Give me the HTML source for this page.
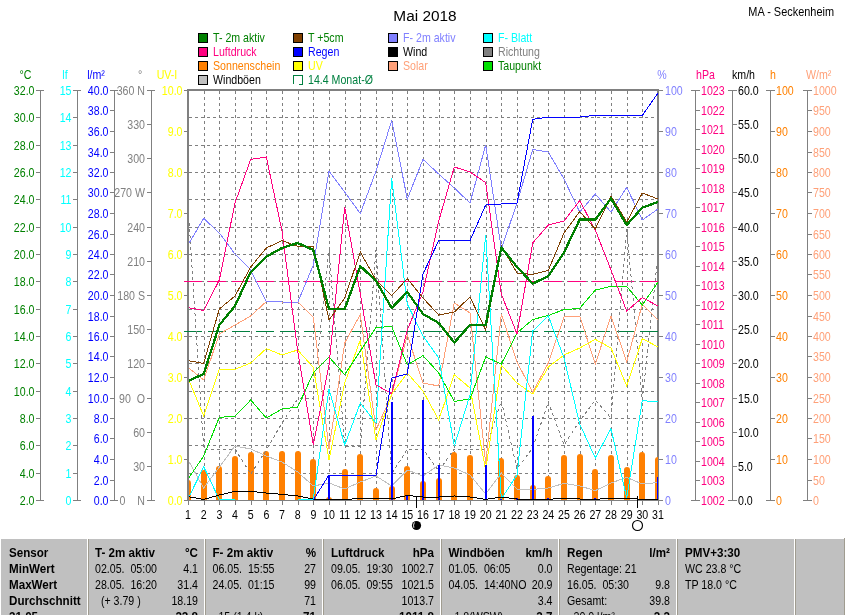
<!DOCTYPE html>
<html lang="de"><head><meta charset="utf-8"><title>Mai 2018 - MA - Seckenheim</title>
<style>html,body{margin:0;padding:0;background:#fff}body{width:845px;height:615px;overflow:hidden}svg{display:block;will-change:transform;opacity:.999}text{white-space:pre;font-family:"Liberation Sans",sans-serif;font-size:12.5px}</style>
</head><body>
<svg width="845" height="615" viewBox="0 0 845 615">
<rect width="845" height="615" fill="#fff"/>
<text transform="translate(425 21) scale(1 1)" fill="#000" text-anchor="middle" style="font-size:15.4px">Mai 2018</text>
<text transform="translate(834 16) scale(0.875 1)" fill="#000" text-anchor="end">MA - Seckenheim</text>
<g shape-rendering="crispEdges">
<rect x="198.5" y="33.5" width="9" height="9" fill="#008000" stroke="#000" stroke-width="1"/>
<rect x="198.5" y="47.5" width="9" height="9" fill="#ff0080" stroke="#000" stroke-width="1"/>
<rect x="198.5" y="61.5" width="9" height="9" fill="#ff8000" stroke="#000" stroke-width="1"/>
<rect x="198.5" y="75.5" width="9" height="9" fill="#c0c0c0" stroke="#000" stroke-width="1"/>
<rect x="293.5" y="33.5" width="9" height="9" fill="#804000" stroke="#000" stroke-width="1"/>
<rect x="293.5" y="47.5" width="9" height="9" fill="#0000ff" stroke="#000" stroke-width="1"/>
<rect x="293.5" y="61.5" width="9" height="9" fill="#ffff00" stroke="#000" stroke-width="1"/>
<rect x="388.5" y="33.5" width="9" height="9" fill="#8080ff" stroke="#000" stroke-width="1"/>
<rect x="388.5" y="47.5" width="9" height="9" fill="#000" stroke="#000" stroke-width="1"/>
<rect x="388.5" y="61.5" width="9" height="9" fill="#ffa078" stroke="#000" stroke-width="1"/>
<rect x="483.5" y="33.5" width="9" height="9" fill="#00ffff" stroke="#000" stroke-width="1"/>
<rect x="483.5" y="47.5" width="9" height="9" fill="#808080" stroke="#000" stroke-width="1"/>
<rect x="483.5" y="61.5" width="9" height="9" fill="#00e000" stroke="#000" stroke-width="1"/>
<path d="M293.5,84 V75.5 H302.5 V84.5 H299" fill="none" stroke="#008040"/>
</g>
<text transform="translate(213 42) scale(0.85 1)" fill="#008000">T- 2m aktiv</text>
<text transform="translate(213 56) scale(0.85 1)" fill="#ff0080">Luftdruck</text>
<text transform="translate(213 70) scale(0.85 1)" fill="#ff8000">Sonnenschein</text>
<text transform="translate(213 84) scale(0.85 1)" fill="#000">Windböen</text>
<text transform="translate(308 42) scale(0.85 1)" fill="#008000">T +5cm</text>
<text transform="translate(308 56) scale(0.85 1)" fill="#0000ff">Regen</text>
<text transform="translate(308 70) scale(0.85 1)" fill="#ffff00">UV</text>
<text transform="translate(403 42) scale(0.85 1)" fill="#8080ff">F- 2m aktiv</text>
<text transform="translate(403 56) scale(0.85 1)" fill="#000">Wind</text>
<text transform="translate(403 70) scale(0.85 1)" fill="#ffa078">Solar</text>
<text transform="translate(498 42) scale(0.85 1)" fill="#00ffff">F- Blatt</text>
<text transform="translate(498 56) scale(0.85 1)" fill="#808080">Richtung</text>
<text transform="translate(498 70) scale(0.85 1)" fill="#008000">Taupunkt</text>
<text transform="translate(308 84) scale(0.85 1)" fill="#008040">14.4 Monat-Ø</text>
<g shape-rendering="crispEdges" stroke="#808080" stroke-width="1" fill="none">
<path d="M40.5,90 V500.5"/>
<path d="M36,90.5 H44"/>
<path d="M36,117.5 H40"/>
<path d="M36,145.5 H40"/>
<path d="M36,172.5 H40"/>
<path d="M36,199.5 H40"/>
<path d="M36,227.5 H40"/>
<path d="M36,254.5 H40"/>
<path d="M36,281.5 H40"/>
<path d="M36,309.5 H40"/>
<path d="M36,336.5 H40"/>
<path d="M36,363.5 H40"/>
<path d="M36,391.5 H40"/>
<path d="M36,418.5 H40"/>
<path d="M36,445.5 H40"/>
<path d="M36,473.5 H40"/>
<path d="M36,500.5 H44"/>
<path d="M77.5,90 V500.5"/>
<path d="M73,90.5 H81"/>
<path d="M73,117.5 H77"/>
<path d="M73,145.5 H77"/>
<path d="M73,172.5 H77"/>
<path d="M73,199.5 H77"/>
<path d="M73,227.5 H77"/>
<path d="M73,254.5 H77"/>
<path d="M73,281.5 H77"/>
<path d="M73,309.5 H77"/>
<path d="M73,336.5 H77"/>
<path d="M73,363.5 H77"/>
<path d="M73,391.5 H77"/>
<path d="M73,418.5 H77"/>
<path d="M73,445.5 H77"/>
<path d="M73,473.5 H77"/>
<path d="M73,500.5 H81"/>
<path d="M114.5,90 V500.5"/>
<path d="M110,90.5 H118"/>
<path d="M110,110.5 H114"/>
<path d="M110,131.5 H114"/>
<path d="M110,152.5 H114"/>
<path d="M110,172.5 H114"/>
<path d="M110,192.5 H114"/>
<path d="M110,213.5 H114"/>
<path d="M110,234.5 H114"/>
<path d="M110,254.5 H114"/>
<path d="M110,274.5 H114"/>
<path d="M110,295.5 H114"/>
<path d="M110,316.5 H114"/>
<path d="M110,336.5 H114"/>
<path d="M110,356.5 H114"/>
<path d="M110,377.5 H114"/>
<path d="M110,398.5 H114"/>
<path d="M110,418.5 H114"/>
<path d="M110,438.5 H114"/>
<path d="M110,459.5 H114"/>
<path d="M110,480.5 H114"/>
<path d="M110,500.5 H118"/>
<path d="M151.5,90 V500.5"/>
<path d="M147,90.5 H155"/>
<path d="M147,124.5 H151"/>
<path d="M147,158.5 H151"/>
<path d="M147,192.5 H151"/>
<path d="M147,227.5 H151"/>
<path d="M147,261.5 H151"/>
<path d="M147,295.5 H151"/>
<path d="M147,329.5 H151"/>
<path d="M147,363.5 H151"/>
<path d="M147,398.5 H151"/>
<path d="M147,432.5 H151"/>
<path d="M147,466.5 H151"/>
<path d="M147,500.5 H155"/>
<path d="M184,90.5 H188"/>
<path d="M184,131.5 H188"/>
<path d="M184,172.5 H188"/>
<path d="M184,213.5 H188"/>
<path d="M184,254.5 H188"/>
<path d="M184,295.5 H188"/>
<path d="M184,336.5 H188"/>
<path d="M184,377.5 H188"/>
<path d="M184,418.5 H188"/>
<path d="M184,459.5 H188"/>
<path d="M184,500.5 H188"/>
<path d="M659,90.5 H663"/>
<path d="M659,131.5 H663"/>
<path d="M659,172.5 H663"/>
<path d="M659,213.5 H663"/>
<path d="M659,254.5 H663"/>
<path d="M659,295.5 H663"/>
<path d="M659,336.5 H663"/>
<path d="M659,377.5 H663"/>
<path d="M659,418.5 H663"/>
<path d="M659,459.5 H663"/>
<path d="M659,500.5 H663"/>
<path d="M695.5,90 V500.5"/>
<path d="M691,90.5 H700"/>
<path d="M696,110.5 H700"/>
<path d="M696,129.5 H700"/>
<path d="M696,149.5 H700"/>
<path d="M696,168.5 H700"/>
<path d="M696,188.5 H700"/>
<path d="M696,207.5 H700"/>
<path d="M696,227.5 H700"/>
<path d="M696,246.5 H700"/>
<path d="M696,266.5 H700"/>
<path d="M696,285.5 H700"/>
<path d="M696,305.5 H700"/>
<path d="M696,324.5 H700"/>
<path d="M696,344.5 H700"/>
<path d="M696,363.5 H700"/>
<path d="M696,383.5 H700"/>
<path d="M696,402.5 H700"/>
<path d="M696,422.5 H700"/>
<path d="M696,441.5 H700"/>
<path d="M696,461.5 H700"/>
<path d="M696,480.5 H700"/>
<path d="M691,500.5 H700"/>
<path d="M732.5,90 V500.5"/>
<path d="M728,90.5 H737"/>
<path d="M733,124.5 H737"/>
<path d="M733,158.5 H737"/>
<path d="M733,192.5 H737"/>
<path d="M733,227.5 H737"/>
<path d="M733,261.5 H737"/>
<path d="M733,295.5 H737"/>
<path d="M733,329.5 H737"/>
<path d="M733,363.5 H737"/>
<path d="M733,398.5 H737"/>
<path d="M733,432.5 H737"/>
<path d="M733,466.5 H737"/>
<path d="M728,500.5 H737"/>
<path d="M770.5,90 V500.5"/>
<path d="M766,90.5 H775"/>
<path d="M771,131.5 H775"/>
<path d="M771,172.5 H775"/>
<path d="M771,213.5 H775"/>
<path d="M771,254.5 H775"/>
<path d="M771,295.5 H775"/>
<path d="M771,336.5 H775"/>
<path d="M771,377.5 H775"/>
<path d="M771,418.5 H775"/>
<path d="M771,459.5 H775"/>
<path d="M766,500.5 H775"/>
<path d="M807.5,90 V500.5"/>
<path d="M803,90.5 H812"/>
<path d="M808,110.5 H812"/>
<path d="M808,131.5 H812"/>
<path d="M808,152.5 H812"/>
<path d="M808,172.5 H812"/>
<path d="M808,192.5 H812"/>
<path d="M808,213.5 H812"/>
<path d="M808,234.5 H812"/>
<path d="M808,254.5 H812"/>
<path d="M808,274.5 H812"/>
<path d="M808,295.5 H812"/>
<path d="M808,316.5 H812"/>
<path d="M808,336.5 H812"/>
<path d="M808,356.5 H812"/>
<path d="M808,377.5 H812"/>
<path d="M808,398.5 H812"/>
<path d="M808,418.5 H812"/>
<path d="M808,438.5 H812"/>
<path d="M808,459.5 H812"/>
<path d="M808,480.5 H812"/>
<path d="M803,500.5 H812"/>
</g>
<text transform="translate(34.5 95) scale(0.85 1)" fill="#008000" text-anchor="end">32.0</text>
<text transform="translate(34.5 122) scale(0.85 1)" fill="#008000" text-anchor="end">30.0</text>
<text transform="translate(34.5 150) scale(0.85 1)" fill="#008000" text-anchor="end">28.0</text>
<text transform="translate(34.5 177) scale(0.85 1)" fill="#008000" text-anchor="end">26.0</text>
<text transform="translate(34.5 204) scale(0.85 1)" fill="#008000" text-anchor="end">24.0</text>
<text transform="translate(34.5 232) scale(0.85 1)" fill="#008000" text-anchor="end">22.0</text>
<text transform="translate(34.5 259) scale(0.85 1)" fill="#008000" text-anchor="end">20.0</text>
<text transform="translate(34.5 286) scale(0.85 1)" fill="#008000" text-anchor="end">18.0</text>
<text transform="translate(34.5 314) scale(0.85 1)" fill="#008000" text-anchor="end">16.0</text>
<text transform="translate(34.5 341) scale(0.85 1)" fill="#008000" text-anchor="end">14.0</text>
<text transform="translate(34.5 368) scale(0.85 1)" fill="#008000" text-anchor="end">12.0</text>
<text transform="translate(34.5 396) scale(0.85 1)" fill="#008000" text-anchor="end">10.0</text>
<text transform="translate(34.5 423) scale(0.85 1)" fill="#008000" text-anchor="end">8.0</text>
<text transform="translate(34.5 450) scale(0.85 1)" fill="#008000" text-anchor="end">6.0</text>
<text transform="translate(34.5 478) scale(0.85 1)" fill="#008000" text-anchor="end">4.0</text>
<text transform="translate(34.5 505) scale(0.85 1)" fill="#008000" text-anchor="end">2.0</text>
<text transform="translate(71.5 95) scale(0.85 1)" fill="#00ffff" text-anchor="end">15</text>
<text transform="translate(71.5 122) scale(0.85 1)" fill="#00ffff" text-anchor="end">14</text>
<text transform="translate(71.5 150) scale(0.85 1)" fill="#00ffff" text-anchor="end">13</text>
<text transform="translate(71.5 177) scale(0.85 1)" fill="#00ffff" text-anchor="end">12</text>
<text transform="translate(71.5 204) scale(0.85 1)" fill="#00ffff" text-anchor="end">11</text>
<text transform="translate(71.5 232) scale(0.85 1)" fill="#00ffff" text-anchor="end">10</text>
<text transform="translate(71.5 259) scale(0.85 1)" fill="#00ffff" text-anchor="end">9</text>
<text transform="translate(71.5 286) scale(0.85 1)" fill="#00ffff" text-anchor="end">8</text>
<text transform="translate(71.5 314) scale(0.85 1)" fill="#00ffff" text-anchor="end">7</text>
<text transform="translate(71.5 341) scale(0.85 1)" fill="#00ffff" text-anchor="end">6</text>
<text transform="translate(71.5 368) scale(0.85 1)" fill="#00ffff" text-anchor="end">5</text>
<text transform="translate(71.5 396) scale(0.85 1)" fill="#00ffff" text-anchor="end">4</text>
<text transform="translate(71.5 423) scale(0.85 1)" fill="#00ffff" text-anchor="end">3</text>
<text transform="translate(71.5 450) scale(0.85 1)" fill="#00ffff" text-anchor="end">2</text>
<text transform="translate(71.5 478) scale(0.85 1)" fill="#00ffff" text-anchor="end">1</text>
<text transform="translate(71.5 505) scale(0.85 1)" fill="#00ffff" text-anchor="end">0</text>
<text transform="translate(108.5 95) scale(0.85 1)" fill="#0000ff" text-anchor="end">40.0</text>
<text transform="translate(108.5 115) scale(0.85 1)" fill="#0000ff" text-anchor="end">38.0</text>
<text transform="translate(108.5 136) scale(0.85 1)" fill="#0000ff" text-anchor="end">36.0</text>
<text transform="translate(108.5 157) scale(0.85 1)" fill="#0000ff" text-anchor="end">34.0</text>
<text transform="translate(108.5 177) scale(0.85 1)" fill="#0000ff" text-anchor="end">32.0</text>
<text transform="translate(108.5 197) scale(0.85 1)" fill="#0000ff" text-anchor="end">30.0</text>
<text transform="translate(108.5 218) scale(0.85 1)" fill="#0000ff" text-anchor="end">28.0</text>
<text transform="translate(108.5 239) scale(0.85 1)" fill="#0000ff" text-anchor="end">26.0</text>
<text transform="translate(108.5 259) scale(0.85 1)" fill="#0000ff" text-anchor="end">24.0</text>
<text transform="translate(108.5 279) scale(0.85 1)" fill="#0000ff" text-anchor="end">22.0</text>
<text transform="translate(108.5 300) scale(0.85 1)" fill="#0000ff" text-anchor="end">20.0</text>
<text transform="translate(108.5 321) scale(0.85 1)" fill="#0000ff" text-anchor="end">18.0</text>
<text transform="translate(108.5 341) scale(0.85 1)" fill="#0000ff" text-anchor="end">16.0</text>
<text transform="translate(108.5 361) scale(0.85 1)" fill="#0000ff" text-anchor="end">14.0</text>
<text transform="translate(108.5 382) scale(0.85 1)" fill="#0000ff" text-anchor="end">12.0</text>
<text transform="translate(108.5 403) scale(0.85 1)" fill="#0000ff" text-anchor="end">10.0</text>
<text transform="translate(108.5 423) scale(0.85 1)" fill="#0000ff" text-anchor="end">8.0</text>
<text transform="translate(108.5 443) scale(0.85 1)" fill="#0000ff" text-anchor="end">6.0</text>
<text transform="translate(108.5 464) scale(0.85 1)" fill="#0000ff" text-anchor="end">4.0</text>
<text transform="translate(108.5 485) scale(0.85 1)" fill="#0000ff" text-anchor="end">2.0</text>
<text transform="translate(108.5 505) scale(0.85 1)" fill="#0000ff" text-anchor="end">0.0</text>
<text transform="translate(145 95) scale(0.85 1)" fill="#808080" text-anchor="end">360 N</text>
<text transform="translate(145 129) scale(0.85 1)" fill="#808080" text-anchor="end">330</text>
<text transform="translate(145 163) scale(0.85 1)" fill="#808080" text-anchor="end">300</text>
<text transform="translate(145 197) scale(0.85 1)" fill="#808080" text-anchor="end">270 W</text>
<text transform="translate(145 232) scale(0.85 1)" fill="#808080" text-anchor="end">240</text>
<text transform="translate(145 266) scale(0.85 1)" fill="#808080" text-anchor="end">210</text>
<text transform="translate(145 300) scale(0.85 1)" fill="#808080" text-anchor="end">180 S</text>
<text transform="translate(145 334) scale(0.85 1)" fill="#808080" text-anchor="end">150</text>
<text transform="translate(145 368) scale(0.85 1)" fill="#808080" text-anchor="end">120</text>
<text transform="translate(145 403) scale(0.85 1)" fill="#808080" text-anchor="end">90  O</text>
<text transform="translate(145 437) scale(0.85 1)" fill="#808080" text-anchor="end">60</text>
<text transform="translate(145 471) scale(0.85 1)" fill="#808080" text-anchor="end">30</text>
<text transform="translate(119.5 505) scale(0.85 1)" fill="#808080">0</text>
<text transform="translate(145 505) scale(0.85 1)" fill="#808080" text-anchor="end">N</text>
<text transform="translate(182.5 95) scale(0.85 1)" fill="#ffff00" text-anchor="end">10.0</text>
<text transform="translate(182.5 136) scale(0.85 1)" fill="#ffff00" text-anchor="end">9.0</text>
<text transform="translate(182.5 177) scale(0.85 1)" fill="#ffff00" text-anchor="end">8.0</text>
<text transform="translate(182.5 218) scale(0.85 1)" fill="#ffff00" text-anchor="end">7.0</text>
<text transform="translate(182.5 259) scale(0.85 1)" fill="#ffff00" text-anchor="end">6.0</text>
<text transform="translate(182.5 300) scale(0.85 1)" fill="#ffff00" text-anchor="end">5.0</text>
<text transform="translate(182.5 341) scale(0.85 1)" fill="#ffff00" text-anchor="end">4.0</text>
<text transform="translate(182.5 382) scale(0.85 1)" fill="#ffff00" text-anchor="end">3.0</text>
<text transform="translate(182.5 423) scale(0.85 1)" fill="#ffff00" text-anchor="end">2.0</text>
<text transform="translate(182.5 464) scale(0.85 1)" fill="#ffff00" text-anchor="end">1.0</text>
<text transform="translate(182.5 505) scale(0.85 1)" fill="#ffff00" text-anchor="end">0.0</text>
<text transform="translate(665 95) scale(0.85 1)" fill="#8080ff">100</text>
<text transform="translate(665 136) scale(0.85 1)" fill="#8080ff">90</text>
<text transform="translate(665 177) scale(0.85 1)" fill="#8080ff">80</text>
<text transform="translate(665 218) scale(0.85 1)" fill="#8080ff">70</text>
<text transform="translate(665 259) scale(0.85 1)" fill="#8080ff">60</text>
<text transform="translate(665 300) scale(0.85 1)" fill="#8080ff">50</text>
<text transform="translate(665 341) scale(0.85 1)" fill="#8080ff">40</text>
<text transform="translate(665 382) scale(0.85 1)" fill="#8080ff">30</text>
<text transform="translate(665 423) scale(0.85 1)" fill="#8080ff">20</text>
<text transform="translate(665 464) scale(0.85 1)" fill="#8080ff">10</text>
<text transform="translate(665 505) scale(0.85 1)" fill="#8080ff">0</text>
<text transform="translate(701 95) scale(0.85 1)" fill="#ff0080">1023</text>
<text transform="translate(701 115) scale(0.85 1)" fill="#ff0080">1022</text>
<text transform="translate(701 134) scale(0.85 1)" fill="#ff0080">1021</text>
<text transform="translate(701 154) scale(0.85 1)" fill="#ff0080">1020</text>
<text transform="translate(701 173) scale(0.85 1)" fill="#ff0080">1019</text>
<text transform="translate(701 193) scale(0.85 1)" fill="#ff0080">1018</text>
<text transform="translate(701 212) scale(0.85 1)" fill="#ff0080">1017</text>
<text transform="translate(701 232) scale(0.85 1)" fill="#ff0080">1016</text>
<text transform="translate(701 251) scale(0.85 1)" fill="#ff0080">1015</text>
<text transform="translate(701 271) scale(0.85 1)" fill="#ff0080">1014</text>
<text transform="translate(701 290) scale(0.85 1)" fill="#ff0080">1013</text>
<text transform="translate(701 310) scale(0.85 1)" fill="#ff0080">1012</text>
<text transform="translate(701 329) scale(0.85 1)" fill="#ff0080">1011</text>
<text transform="translate(701 349) scale(0.85 1)" fill="#ff0080">1010</text>
<text transform="translate(701 368) scale(0.85 1)" fill="#ff0080">1009</text>
<text transform="translate(701 388) scale(0.85 1)" fill="#ff0080">1008</text>
<text transform="translate(701 407) scale(0.85 1)" fill="#ff0080">1007</text>
<text transform="translate(701 427) scale(0.85 1)" fill="#ff0080">1006</text>
<text transform="translate(701 446) scale(0.85 1)" fill="#ff0080">1005</text>
<text transform="translate(701 466) scale(0.85 1)" fill="#ff0080">1004</text>
<text transform="translate(701 485) scale(0.85 1)" fill="#ff0080">1003</text>
<text transform="translate(701 505) scale(0.85 1)" fill="#ff0080">1002</text>
<text transform="translate(738 95) scale(0.85 1)" fill="#000">60.0</text>
<text transform="translate(738 129) scale(0.85 1)" fill="#000">55.0</text>
<text transform="translate(738 163) scale(0.85 1)" fill="#000">50.0</text>
<text transform="translate(738 197) scale(0.85 1)" fill="#000">45.0</text>
<text transform="translate(738 232) scale(0.85 1)" fill="#000">40.0</text>
<text transform="translate(738 266) scale(0.85 1)" fill="#000">35.0</text>
<text transform="translate(738 300) scale(0.85 1)" fill="#000">30.0</text>
<text transform="translate(738 334) scale(0.85 1)" fill="#000">25.0</text>
<text transform="translate(738 368) scale(0.85 1)" fill="#000">20.0</text>
<text transform="translate(738 403) scale(0.85 1)" fill="#000">15.0</text>
<text transform="translate(738 437) scale(0.85 1)" fill="#000">10.0</text>
<text transform="translate(738 471) scale(0.85 1)" fill="#000">5.0</text>
<text transform="translate(738 505) scale(0.85 1)" fill="#000">0.0</text>
<text transform="translate(776 95) scale(0.85 1)" fill="#ff8000">100</text>
<text transform="translate(776 136) scale(0.85 1)" fill="#ff8000">90</text>
<text transform="translate(776 177) scale(0.85 1)" fill="#ff8000">80</text>
<text transform="translate(776 218) scale(0.85 1)" fill="#ff8000">70</text>
<text transform="translate(776 259) scale(0.85 1)" fill="#ff8000">60</text>
<text transform="translate(776 300) scale(0.85 1)" fill="#ff8000">50</text>
<text transform="translate(776 341) scale(0.85 1)" fill="#ff8000">40</text>
<text transform="translate(776 382) scale(0.85 1)" fill="#ff8000">30</text>
<text transform="translate(776 423) scale(0.85 1)" fill="#ff8000">20</text>
<text transform="translate(776 464) scale(0.85 1)" fill="#ff8000">10</text>
<text transform="translate(776 505) scale(0.85 1)" fill="#ff8000">0</text>
<text transform="translate(813 95) scale(0.85 1)" fill="#ffa078">1000</text>
<text transform="translate(813 115) scale(0.85 1)" fill="#ffa078">950</text>
<text transform="translate(813 136) scale(0.85 1)" fill="#ffa078">900</text>
<text transform="translate(813 157) scale(0.85 1)" fill="#ffa078">850</text>
<text transform="translate(813 177) scale(0.85 1)" fill="#ffa078">800</text>
<text transform="translate(813 197) scale(0.85 1)" fill="#ffa078">750</text>
<text transform="translate(813 218) scale(0.85 1)" fill="#ffa078">700</text>
<text transform="translate(813 239) scale(0.85 1)" fill="#ffa078">650</text>
<text transform="translate(813 259) scale(0.85 1)" fill="#ffa078">600</text>
<text transform="translate(813 279) scale(0.85 1)" fill="#ffa078">550</text>
<text transform="translate(813 300) scale(0.85 1)" fill="#ffa078">500</text>
<text transform="translate(813 321) scale(0.85 1)" fill="#ffa078">450</text>
<text transform="translate(813 341) scale(0.85 1)" fill="#ffa078">400</text>
<text transform="translate(813 361) scale(0.85 1)" fill="#ffa078">350</text>
<text transform="translate(813 382) scale(0.85 1)" fill="#ffa078">300</text>
<text transform="translate(813 403) scale(0.85 1)" fill="#ffa078">250</text>
<text transform="translate(813 423) scale(0.85 1)" fill="#ffa078">200</text>
<text transform="translate(813 443) scale(0.85 1)" fill="#ffa078">150</text>
<text transform="translate(813 464) scale(0.85 1)" fill="#ffa078">100</text>
<text transform="translate(813 485) scale(0.85 1)" fill="#ffa078">50</text>
<text transform="translate(813 505) scale(0.85 1)" fill="#ffa078">0</text>
<text transform="translate(25.5 79) scale(0.85 1)" fill="#008000" text-anchor="middle">°C</text>
<text transform="translate(65 79) scale(0.85 1)" fill="#00ffff" text-anchor="middle">lf</text>
<text transform="translate(96 79) scale(0.85 1)" fill="#0000ff" text-anchor="middle">l/m²</text>
<text transform="translate(140 79) scale(0.85 1)" fill="#808080" text-anchor="middle">°</text>
<text transform="translate(167 79) scale(0.85 1)" fill="#ffff00" text-anchor="middle">UV-I</text>
<text transform="translate(662 79) scale(0.85 1)" fill="#8080ff" text-anchor="middle">%</text>
<text transform="translate(696 79) scale(0.85 1)" fill="#ff0080">hPa</text>
<text transform="translate(732 79) scale(0.85 1)" fill="#000">km/h</text>
<text transform="translate(770 79) scale(0.85 1)" fill="#ff8000">h</text>
<text transform="translate(806 79) scale(0.85 1)" fill="#ffa078">W/m²</text>
<g shape-rendering="crispEdges" fill="none">
<g stroke="#808080" stroke-width="1" stroke-dasharray="3 3">
<path d="M189,117.5 H658"/>
<path d="M189,145.5 H658"/>
<path d="M189,172.5 H658"/>
<path d="M189,199.5 H658"/>
<path d="M189,227.5 H658"/>
<path d="M189,254.5 H658"/>
<path d="M189,281.5 H658"/>
<path d="M189,309.5 H658"/>
<path d="M189,336.5 H658"/>
<path d="M189,363.5 H658"/>
<path d="M189,391.5 H658"/>
<path d="M189,418.5 H658"/>
<path d="M189,445.5 H658"/>
<path d="M189,473.5 H658"/>
<path d="M204.5,91 V500"/>
<path d="M219.5,91 V500"/>
<path d="M235.5,91 V500"/>
<path d="M251.5,91 V500"/>
<path d="M266.5,91 V500"/>
<path d="M282.5,91 V500"/>
<path d="M298.5,91 V500"/>
<path d="M313.5,91 V500"/>
<path d="M329.5,91 V500"/>
<path d="M345.5,91 V500"/>
<path d="M360.5,91 V500"/>
<path d="M376.5,91 V500"/>
<path d="M392.5,91 V500"/>
<path d="M407.5,91 V500"/>
<path d="M423.5,91 V500"/>
<path d="M439.5,91 V500"/>
<path d="M454.5,91 V500"/>
<path d="M470.5,91 V500"/>
<path d="M486.5,91 V500"/>
<path d="M501.5,91 V500"/>
<path d="M517.5,91 V500"/>
<path d="M533.5,91 V500"/>
<path d="M548.5,91 V500"/>
<path d="M564.5,91 V500"/>
<path d="M580.5,91 V500"/>
<path d="M595.5,91 V500"/>
<path d="M611.5,91 V500"/>
<path d="M627.5,91 V500"/>
<path d="M642.5,91 V500"/>
</g>
<path d="M188,89 V501 M187,90 H659 M658,89 V501" stroke="#808080" stroke-width="2"/>
<path d="M187,500.5 H659" stroke="#808080" stroke-width="1"/>
<clipPath id="pc"><rect x="189" y="91" width="469" height="409"/></clipPath>
<path d="M184,281.5 H658" stroke="#ff0080" stroke-dasharray="18 6"/>
<path d="M184,331.5 H658" stroke="#008040" stroke-dasharray="18 6"/>
<g clip-path="url(#pc)">
<path d="M185,500 V483.0 a3,3 0 0 1 6,0 V500 Z" fill="#ff8000" stroke="none" shape-rendering="auto"/>
<path d="M201,500 V473.0 a3,3 0 0 1 6,0 V500 Z" fill="#ff8000" stroke="none" shape-rendering="auto"/>
<path d="M216,500 V469.0 a3,3 0 0 1 6,0 V500 Z" fill="#ff8000" stroke="none" shape-rendering="auto"/>
<path d="M232,500 V459.0 a3,3 0 0 1 6,0 V500 Z" fill="#ff8000" stroke="none" shape-rendering="auto"/>
<path d="M248,500 V455.0 a3,3 0 0 1 6,0 V500 Z" fill="#ff8000" stroke="none" shape-rendering="auto"/>
<path d="M263,500 V454.0 a3,3 0 0 1 6,0 V500 Z" fill="#ff8000" stroke="none" shape-rendering="auto"/>
<path d="M279,500 V454.0 a3,3 0 0 1 6,0 V500 Z" fill="#ff8000" stroke="none" shape-rendering="auto"/>
<path d="M295,500 V454.0 a3,3 0 0 1 6,0 V500 Z" fill="#ff8000" stroke="none" shape-rendering="auto"/>
<path d="M310,500 V462.0 a3,3 0 0 1 6,0 V500 Z" fill="#ff8000" stroke="none" shape-rendering="auto"/>
<path d="M326,500 V500.0 a3,3 0 0 1 6,0 V500 Z" fill="#ff8000" stroke="none" shape-rendering="auto"/>
<path d="M342,500 V472.0 a3,3 0 0 1 6,0 V500 Z" fill="#ff8000" stroke="none" shape-rendering="auto"/>
<path d="M357,500 V457.0 a3,3 0 0 1 6,0 V500 Z" fill="#ff8000" stroke="none" shape-rendering="auto"/>
<path d="M373,500 V491.0 a3,3 0 0 1 6,0 V500 Z" fill="#ff8000" stroke="none" shape-rendering="auto"/>
<path d="M389,500 V489.0 a3,3 0 0 1 6,0 V500 Z" fill="#ff8000" stroke="none" shape-rendering="auto"/>
<path d="M404,500 V469.0 a3,3 0 0 1 6,0 V500 Z" fill="#ff8000" stroke="none" shape-rendering="auto"/>
<path d="M420,500 V484.0 a3,3 0 0 1 6,0 V500 Z" fill="#ff8000" stroke="none" shape-rendering="auto"/>
<path d="M436,500 V481.0 a3,3 0 0 1 6,0 V500 Z" fill="#ff8000" stroke="none" shape-rendering="auto"/>
<path d="M451,500 V455.0 a3,3 0 0 1 6,0 V500 Z" fill="#ff8000" stroke="none" shape-rendering="auto"/>
<path d="M467,500 V458.0 a3,3 0 0 1 6,0 V500 Z" fill="#ff8000" stroke="none" shape-rendering="auto"/>
<path d="M498,500 V461.0 a3,3 0 0 1 6,0 V500 Z" fill="#ff8000" stroke="none" shape-rendering="auto"/>
<path d="M514,500 V478.0 a3,3 0 0 1 6,0 V500 Z" fill="#ff8000" stroke="none" shape-rendering="auto"/>
<path d="M530,500 V488.0 a3,3 0 0 1 6,0 V500 Z" fill="#ff8000" stroke="none" shape-rendering="auto"/>
<path d="M545,500 V479.0 a3,3 0 0 1 6,0 V500 Z" fill="#ff8000" stroke="none" shape-rendering="auto"/>
<path d="M561,500 V458.0 a3,3 0 0 1 6,0 V500 Z" fill="#ff8000" stroke="none" shape-rendering="auto"/>
<path d="M577,500 V457.0 a3,3 0 0 1 6,0 V500 Z" fill="#ff8000" stroke="none" shape-rendering="auto"/>
<path d="M592,500 V472.0 a3,3 0 0 1 6,0 V500 Z" fill="#ff8000" stroke="none" shape-rendering="auto"/>
<path d="M608,500 V458.0 a3,3 0 0 1 6,0 V500 Z" fill="#ff8000" stroke="none" shape-rendering="auto"/>
<path d="M624,500 V470.0 a3,3 0 0 1 6,0 V500 Z" fill="#ff8000" stroke="none" shape-rendering="auto"/>
<path d="M639,500 V455.0 a3,3 0 0 1 6,0 V500 Z" fill="#ff8000" stroke="none" shape-rendering="auto"/>
<path d="M655,500 V460.0 a3,3 0 0 1 6,0 V500 Z" fill="#ff8000" stroke="none" shape-rendering="auto"/>
<polyline points="188.0,205.0 203.7,449.0 219.3,449.0 235.0,449.0 250.7,474.0 266.3,450.0 282.0,423.0 297.7,399.0 313.3,398.0 329.0,250.0 344.7,446.0 360.3,447.0 376.0,250.0 391.7,474.0 407.3,449.0 423.0,449.0 438.7,471.0 454.3,449.0 470.0,449.0 485.7,449.0 501.3,401.0 517.0,469.0 532.7,448.0 548.3,402.0 564.0,445.0 579.7,421.0 595.3,400.0 611.0,418.0 626.7,229.0 642.3,400.0 658.0,255.0" fill="none" stroke="#808080" stroke-width="1" stroke-dasharray="3 3"/>
<polyline points="188.0,460.0 203.7,488.0 219.3,467.0 235.0,446.0 250.7,449.0 266.3,456.0 282.0,462.0 297.7,472.0 313.3,486.0 329.0,483.0 344.7,489.0 360.3,482.0 376.0,476.0 391.7,486.0 407.3,470.0 423.0,476.0 438.7,465.0 454.3,468.0 470.0,475.0 485.7,494.0 501.3,473.0 517.0,489.0 532.7,489.4 548.3,488.0 564.0,483.4 579.7,486.0 595.3,490.6 611.0,483.0 626.7,477.4 642.3,484.0 658.0,482.6" fill="none" stroke="#c0c0c0" stroke-width="1"/>
<polyline points="188.0,367.4 203.7,380.0 219.3,334.0 235.0,325.0 250.7,316.0 266.3,301.6 282.0,302.0 297.7,302.0 313.3,317.0 329.0,449.0 344.7,343.0 360.3,314.5 376.0,430.0 391.7,395.0 407.3,335.0 423.0,383.0 438.7,386.0 454.3,303.0 470.0,313.0 485.7,464.0 501.3,314.0 517.0,362.0 532.7,392.0 548.3,363.0 564.0,317.0 579.7,316.0 595.3,364.0 611.0,316.0 626.7,362.0 642.3,304.0 658.0,320.0" fill="none" stroke="#ffa078" stroke-width="1"/>
<polyline points="188.0,378.0 203.7,416.0 219.3,369.4 235.0,369.4 250.7,363.0 266.3,348.6 282.0,355.0 297.7,350.0 313.3,367.4 329.0,460.0 344.7,383.0 360.3,340.0 376.0,440.0 391.7,394.0 407.3,373.0 423.0,391.0 438.7,420.0 454.3,374.6 470.0,388.0 485.7,470.0 501.3,365.0 517.0,383.0 532.7,394.0 548.3,367.0 564.0,355.0 579.7,348.0 595.3,339.4 611.0,348.0 626.7,386.0 642.3,338.6 658.0,347.0" fill="none" stroke="#ffff00" stroke-width="1"/>
<polyline points="188.0,479.0 203.7,456.0 219.3,417.4 235.0,416.0 250.7,400.0 266.3,418.0 282.0,409.0 297.7,407.0 313.3,373.0 329.0,357.0 344.7,374.6 360.3,351.0 376.0,327.4 391.7,326.6 407.3,365.0 423.0,355.6 438.7,373.0 454.3,401.4 470.0,399.0 485.7,357.0 501.3,364.0 517.0,333.0 532.7,319.5 548.3,315.5 564.0,309.6 579.7,308.4 595.3,290.0 611.0,286.4 626.7,286.4 642.3,305.0 658.0,282.0" fill="none" stroke="#00e000" stroke-width="1"/>
<polyline points="188.0,499.0 203.7,466.6 219.3,499.6 235.0,500.0 250.7,500.0 266.3,500.0 282.0,500.0 297.7,500.0 313.3,499.0 329.0,389.0 344.7,445.0 360.3,403.0 376.0,423.0 391.7,178.0 407.3,304.0 423.0,336.0 438.7,358.0 454.3,446.0 470.0,395.0 485.7,235.0 501.3,499.0 517.0,475.0 532.7,331.0 548.3,316.0 564.0,358.0 579.7,424.0 595.3,458.0 611.0,428.6 626.7,498.0 642.3,400.6 658.0,402.0" fill="none" stroke="#00ffff" stroke-width="1"/>
<polyline points="188.0,245.0 203.7,218.4 219.3,233.0 235.0,254.0 250.7,270.0 266.3,301.6 282.0,302.0 297.7,302.4 313.3,265.0 329.0,171.0 344.7,192.0 360.3,213.6 376.0,171.0 391.7,120.6 407.3,199.0 423.0,159.4 438.7,174.0 454.3,188.0 470.0,203.0 485.7,145.0 501.3,249.0 517.0,203.0 532.7,149.4 548.3,152.0 564.0,179.0 579.7,212.0 595.3,194.0 611.0,212.0 626.7,187.4 642.3,220.0 658.0,209.0" fill="none" stroke="#8080ff" stroke-width="1"/>
<polyline points="188.0,307.6 203.7,310.4 219.3,280.0 235.0,203.0 250.7,159.4 266.3,157.0 282.0,231.0 297.7,351.0 313.3,445.0 329.0,365.0 344.7,207.0 360.3,294.0 376.0,385.0 391.7,393.6 407.3,330.0 423.0,292.0 438.7,221.0 454.3,167.0 470.0,172.0 485.7,182.6 501.3,294.0 517.0,334.0 532.7,243.0 548.3,225.0 564.0,221.0 579.7,200.6 595.3,230.0 611.0,270.0 626.7,311.0 642.3,297.6 658.0,306.0" fill="none" stroke="#ff0080" stroke-width="1"/>
<polyline points="188.0,360.6 203.7,363.4 219.3,309.0 235.0,296.0 250.7,267.0 266.3,248.0 282.0,240.6 297.7,246.4 313.3,246.4 329.0,320.0 344.7,298.0 360.3,252.0 376.0,280.0 391.7,295.6 407.3,278.6 423.0,298.0 438.7,315.0 454.3,312.0 470.0,297.0 485.7,330.0 501.3,246.0 517.0,273.0 532.7,274.4 548.3,270.4 564.0,233.0 579.7,211.6 595.3,229.0 611.0,196.0 626.7,222.0 642.3,193.0 658.0,199.0" fill="none" stroke="#804000" stroke-width="1"/>
<polyline points="188.0,381.0 203.7,374.0 219.3,325.0 235.0,306.0 250.7,272.0 266.3,256.6 282.0,248.0 297.7,243.0 313.3,250.0 329.0,309.0 344.7,309.0 360.3,266.0 376.0,281.0 391.7,308.0 407.3,292.0 423.0,314.0 438.7,323.0 454.3,342.5 470.0,325.0 485.7,325.0 501.3,247.5 517.0,267.0 532.7,283.6 548.3,276.0 564.0,252.4 579.7,219.6 595.3,219.6 611.0,198.5 626.7,225.0 642.3,207.6 658.0,202.0" fill="none" stroke="#008000" stroke-width="2.3" stroke-linejoin="round"/>
<polyline points="188.0,500.0 203.7,500.0 219.3,500.0 235.0,500.0 250.7,500.0 266.3,500.0 282.0,500.0 297.7,500.0 313.3,500.0 329.0,475.0 344.7,475.0 360.3,475.0 376.0,475.0 391.7,378.0 407.3,374.0 423.0,274.0 438.7,240.6 454.3,240.6 470.0,240.6 485.7,205.0 501.3,204.0 517.0,203.0 532.7,119.4 548.3,117.0 564.0,117.0 579.7,117.0 595.3,115.4 611.0,115.4 626.7,115.4 642.3,115.4 658.0,93.0" fill="none" stroke="#0000ff" stroke-width="1"/>
<path d="M329,500 V475" stroke="#0000ff" stroke-width="2"/>
<path d="M392,500 V402" stroke="#0000ff" stroke-width="2"/>
<path d="M407,500 V496" stroke="#0000ff" stroke-width="2"/>
<path d="M423,500 V400" stroke="#0000ff" stroke-width="2"/>
<path d="M439,500 V465" stroke="#0000ff" stroke-width="2"/>
<path d="M486,500 V465" stroke="#0000ff" stroke-width="2"/>
<path d="M501,500 V499" stroke="#0000ff" stroke-width="2"/>
<path d="M517,500 V498" stroke="#0000ff" stroke-width="2"/>
<path d="M533,500 V416" stroke="#0000ff" stroke-width="2"/>
<path d="M548,500 V497.6" stroke="#0000ff" stroke-width="2"/>
<path d="M595,500 V498" stroke="#0000ff" stroke-width="2"/>
<path d="M658,500 V477" stroke="#0000ff" stroke-width="2"/>
<polyline points="188.0,496.6 203.7,499.4 219.3,495.0 235.0,491.4 250.7,491.4 266.3,493.0 282.0,494.4 297.7,496.0 313.3,499.0 329.0,499.6 344.7,499.4 360.3,498.6 376.0,498.6 391.7,499.0 407.3,495.4 423.0,497.0 438.7,497.0 454.3,496.0 470.0,497.0 485.7,499.4 501.3,497.0 517.0,499.0 532.7,499.5 548.3,499.5 564.0,498.0 579.7,499.0 595.3,499.5 611.0,498.0 626.7,498.0 642.3,499.5 658.0,499.5" fill="none" stroke="#000" stroke-width="1"/>
</g>
<path d="M188.5,501 V505" stroke="#808080"/>
<path d="M204.5,501 V505" stroke="#808080"/>
<path d="M219.5,501 V505" stroke="#808080"/>
<path d="M235.5,501 V505" stroke="#808080"/>
<path d="M251.5,501 V505" stroke="#808080"/>
<path d="M266.5,501 V505" stroke="#808080"/>
<path d="M282.5,501 V505" stroke="#808080"/>
<path d="M298.5,501 V505" stroke="#808080"/>
<path d="M313.5,501 V505" stroke="#808080"/>
<path d="M329.5,501 V505" stroke="#808080"/>
<path d="M345.5,501 V505" stroke="#808080"/>
<path d="M360.5,501 V505" stroke="#808080"/>
<path d="M376.5,501 V505" stroke="#808080"/>
<path d="M392.5,501 V505" stroke="#808080"/>
<path d="M407.5,501 V505" stroke="#808080"/>
<path d="M423.5,501 V505" stroke="#808080"/>
<path d="M439.5,501 V505" stroke="#808080"/>
<path d="M454.5,501 V505" stroke="#808080"/>
<path d="M470.5,501 V505" stroke="#808080"/>
<path d="M486.5,501 V505" stroke="#808080"/>
<path d="M501.5,501 V505" stroke="#808080"/>
<path d="M517.5,501 V505" stroke="#808080"/>
<path d="M533.5,501 V505" stroke="#808080"/>
<path d="M548.5,501 V505" stroke="#808080"/>
<path d="M564.5,501 V505" stroke="#808080"/>
<path d="M580.5,501 V505" stroke="#808080"/>
<path d="M595.5,501 V505" stroke="#808080"/>
<path d="M611.5,501 V505" stroke="#808080"/>
<path d="M627.5,501 V505" stroke="#808080"/>
<path d="M642.5,501 V505" stroke="#808080"/>
<path d="M658.5,501 V505" stroke="#808080"/>
<path d="M416.5,496 V508 M637.5,496 V508" stroke="#000"/>
</g>
<circle cx="416.5" cy="525.5" r="4.6" fill="#000"/>
<path d="M414.4,522.4 Q412.9,525.2 413.9,527.8" stroke="#fff" stroke-width="0.9" fill="none"/>
<circle cx="637.5" cy="525.5" r="5" fill="#fff" stroke="#000" stroke-width="1.15"/>
<text transform="translate(188 519) scale(0.85 1)" fill="#000" text-anchor="middle">1</text>
<text transform="translate(203.667 519) scale(0.85 1)" fill="#000" text-anchor="middle">2</text>
<text transform="translate(219.333 519) scale(0.85 1)" fill="#000" text-anchor="middle">3</text>
<text transform="translate(235 519) scale(0.85 1)" fill="#000" text-anchor="middle">4</text>
<text transform="translate(250.667 519) scale(0.85 1)" fill="#000" text-anchor="middle">5</text>
<text transform="translate(266.333 519) scale(0.85 1)" fill="#000" text-anchor="middle">6</text>
<text transform="translate(282 519) scale(0.85 1)" fill="#000" text-anchor="middle">7</text>
<text transform="translate(297.667 519) scale(0.85 1)" fill="#000" text-anchor="middle">8</text>
<text transform="translate(313.333 519) scale(0.85 1)" fill="#000" text-anchor="middle">9</text>
<text transform="translate(329 519) scale(0.85 1)" fill="#000" text-anchor="middle">10</text>
<text transform="translate(344.667 519) scale(0.85 1)" fill="#000" text-anchor="middle">11</text>
<text transform="translate(360.333 519) scale(0.85 1)" fill="#000" text-anchor="middle">12</text>
<text transform="translate(376 519) scale(0.85 1)" fill="#000" text-anchor="middle">13</text>
<text transform="translate(391.667 519) scale(0.85 1)" fill="#000" text-anchor="middle">14</text>
<text transform="translate(407.333 519) scale(0.85 1)" fill="#000" text-anchor="middle">15</text>
<text transform="translate(423 519) scale(0.85 1)" fill="#000" text-anchor="middle">16</text>
<text transform="translate(438.667 519) scale(0.85 1)" fill="#000" text-anchor="middle">17</text>
<text transform="translate(454.333 519) scale(0.85 1)" fill="#000" text-anchor="middle">18</text>
<text transform="translate(470 519) scale(0.85 1)" fill="#000" text-anchor="middle">19</text>
<text transform="translate(485.667 519) scale(0.85 1)" fill="#000" text-anchor="middle">20</text>
<text transform="translate(501.333 519) scale(0.85 1)" fill="#000" text-anchor="middle">21</text>
<text transform="translate(517 519) scale(0.85 1)" fill="#000" text-anchor="middle">22</text>
<text transform="translate(532.667 519) scale(0.85 1)" fill="#000" text-anchor="middle">23</text>
<text transform="translate(548.333 519) scale(0.85 1)" fill="#000" text-anchor="middle">24</text>
<text transform="translate(564 519) scale(0.85 1)" fill="#000" text-anchor="middle">25</text>
<text transform="translate(579.667 519) scale(0.85 1)" fill="#000" text-anchor="middle">26</text>
<text transform="translate(595.333 519) scale(0.85 1)" fill="#000" text-anchor="middle">27</text>
<text transform="translate(611 519) scale(0.85 1)" fill="#000" text-anchor="middle">28</text>
<text transform="translate(626.667 519) scale(0.85 1)" fill="#000" text-anchor="middle">29</text>
<text transform="translate(642.333 519) scale(0.85 1)" fill="#000" text-anchor="middle">30</text>
<text transform="translate(658 519) scale(0.85 1)" fill="#000" text-anchor="middle">31</text>
<g shape-rendering="crispEdges">
<rect x="1" y="539" width="844" height="76" fill="#c0c0c0"/>
<path d="M87.5,539 V615" stroke="#fff"/>
<path d="M88.5,539 V615" stroke="#a09c90"/>
<path d="M204.5,539 V615" stroke="#fff"/>
<path d="M205.5,539 V615" stroke="#a09c90"/>
<path d="M322.5,539 V615" stroke="#fff"/>
<path d="M323.5,539 V615" stroke="#a09c90"/>
<path d="M440.5,539 V615" stroke="#fff"/>
<path d="M441.5,539 V615" stroke="#a09c90"/>
<path d="M558.5,539 V615" stroke="#fff"/>
<path d="M559.5,539 V615" stroke="#a09c90"/>
<path d="M676.5,539 V615" stroke="#fff"/>
<path d="M677.5,539 V615" stroke="#a09c90"/>
<path d="M794.5,539 V615" stroke="#fff"/>
<path d="M795.5,539 V615" stroke="#a09c90"/>
<path d="M844.5,538 V615" stroke="#a09c90"/>
</g>
<text transform="translate(9 557) scale(0.93 1)" fill="#000" font-weight="bold">Sensor</text>
<text transform="translate(9 573) scale(0.93 1)" fill="#000" font-weight="bold">MinWert</text>
<text transform="translate(9 589) scale(0.93 1)" fill="#000" font-weight="bold">MaxWert</text>
<text transform="translate(9 605) scale(0.93 1)" fill="#000" font-weight="bold">Durchschnitt</text>
<text transform="translate(9 621) scale(0.93 1)" fill="#000" font-weight="bold">31.05.</text>
<text transform="translate(95 557) scale(0.93 1)" fill="#000" font-weight="bold">T- 2m aktiv</text>
<text transform="translate(198 557) scale(0.93 1)" fill="#000" text-anchor="end" font-weight="bold">°C</text>
<text transform="translate(95 573) scale(0.85 1)" fill="#000">02.05.  05:00</text>
<text transform="translate(198 573) scale(0.85 1)" fill="#000" text-anchor="end">4.1</text>
<text transform="translate(95 589) scale(0.85 1)" fill="#000">28.05.  16:20</text>
<text transform="translate(198 589) scale(0.85 1)" fill="#000" text-anchor="end">31.4</text>
<text transform="translate(95 605) scale(0.85 1)" fill="#000">  (+ 3.79 )</text>
<text transform="translate(198 605) scale(0.85 1)" fill="#000" text-anchor="end">18.19</text>
<text transform="translate(198 621) scale(0.93 1)" fill="#000" text-anchor="end" font-weight="bold">22.8</text>
<text transform="translate(212.5 557) scale(0.93 1)" fill="#000" font-weight="bold">F- 2m aktiv</text>
<text transform="translate(316 557) scale(0.93 1)" fill="#000" text-anchor="end" font-weight="bold">%</text>
<text transform="translate(212.5 573) scale(0.85 1)" fill="#000">06.05.  15:55</text>
<text transform="translate(316 573) scale(0.85 1)" fill="#000" text-anchor="end">27</text>
<text transform="translate(212.5 589) scale(0.85 1)" fill="#000">24.05.  01:15</text>
<text transform="translate(316 589) scale(0.85 1)" fill="#000" text-anchor="end">99</text>
<text transform="translate(316 605) scale(0.85 1)" fill="#000" text-anchor="end">71</text>
<text transform="translate(212.5 621) scale(0.85 1)" fill="#000">  15 (1.4 k)</text>
<text transform="translate(316 621) scale(0.93 1)" fill="#000" text-anchor="end" font-weight="bold">71</text>
<text transform="translate(331 557) scale(0.93 1)" fill="#000" font-weight="bold">Luftdruck</text>
<text transform="translate(434 557) scale(0.93 1)" fill="#000" text-anchor="end" font-weight="bold">hPa</text>
<text transform="translate(331 573) scale(0.85 1)" fill="#000">09.05.  19:30</text>
<text transform="translate(434 573) scale(0.85 1)" fill="#000" text-anchor="end">1002.7</text>
<text transform="translate(331 589) scale(0.85 1)" fill="#000">06.05.  09:55</text>
<text transform="translate(434 589) scale(0.85 1)" fill="#000" text-anchor="end">1021.5</text>
<text transform="translate(434 605) scale(0.85 1)" fill="#000" text-anchor="end">1013.7</text>
<text transform="translate(434 621) scale(0.93 1)" fill="#000" text-anchor="end" font-weight="bold">1011.8</text>
<text transform="translate(448.5 557) scale(0.93 1)" fill="#000" font-weight="bold">Windböen</text>
<text transform="translate(552.5 557) scale(0.93 1)" fill="#000" text-anchor="end" font-weight="bold">km/h</text>
<text transform="translate(448.5 573) scale(0.85 1)" fill="#000">01.05.  06:05</text>
<text transform="translate(552.5 573) scale(0.85 1)" fill="#000" text-anchor="end">0.0</text>
<text transform="translate(448.5 589) scale(0.85 1)" fill="#000">04.05.  14:40NO</text>
<text transform="translate(552.5 589) scale(0.85 1)" fill="#000" text-anchor="end">20.9</text>
<text transform="translate(552.5 605) scale(0.85 1)" fill="#000" text-anchor="end">3.4</text>
<text transform="translate(448.5 621) scale(0.85 1)" fill="#000">  1.8(WSW)</text>
<text transform="translate(552.5 621) scale(0.93 1)" fill="#000" text-anchor="end" font-weight="bold">2.7</text>
<text transform="translate(567 557) scale(0.93 1)" fill="#000" font-weight="bold">Regen</text>
<text transform="translate(670 557) scale(0.93 1)" fill="#000" text-anchor="end" font-weight="bold">l/m²</text>
<text transform="translate(567 573) scale(0.85 1)" fill="#000">Regentage: 21</text>
<text transform="translate(567 589) scale(0.85 1)" fill="#000">16.05.  05:30</text>
<text transform="translate(670 589) scale(0.85 1)" fill="#000" text-anchor="end">9.8</text>
<text transform="translate(567 605) scale(0.85 1)" fill="#000">Gesamt:</text>
<text transform="translate(670 605) scale(0.85 1)" fill="#000" text-anchor="end">39.8</text>
<text transform="translate(567 621) scale(0.85 1)" fill="#000"> -20.0 l/m²</text>
<text transform="translate(670 621) scale(0.93 1)" fill="#000" text-anchor="end" font-weight="bold">2.2</text>
<text transform="translate(685 557) scale(0.93 1)" fill="#000" font-weight="bold">PMV+3:30</text>
<text transform="translate(685 573) scale(0.85 1)" fill="#000">WC 23.8 °C</text>
<text transform="translate(685 589) scale(0.85 1)" fill="#000">TP 18.0 °C</text>
</svg></body></html>
